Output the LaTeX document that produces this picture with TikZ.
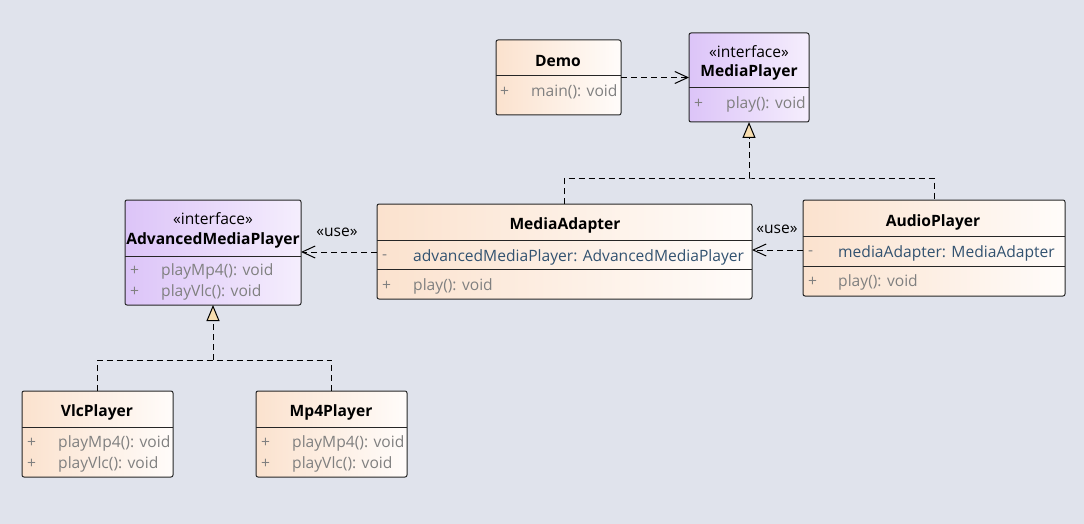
\documentclass[tikz,border=0pt]{standalone}
\usepackage{fontspec}
\setmainfont{Open Sans}
\usepackage{tikz}
\usetikzlibrary{positioning, calc}
\usetikzlibrary{arrows.meta}

\definecolor{bgcol}{RGB}{224,227,236}
\definecolor{clsleft}{RGB}{251,226,206}
\definecolor{clsright}{RGB}{255,252,250}
\definecolor{ifleft}{RGB}{220,196,248}
\definecolor{ifright}{RGB}{245,238,253}
\definecolor{opgray}{RGB}{128,128,128}
\definecolor{attrblue}{RGB}{50,82,112}
\definecolor{tricol}{RGB}{248,222,176}

\begin{document}
\begin{tikzpicture}[x=1pt,y=-1pt,
    cls/.style={draw=black!85, line width=1pt, rounded corners=2pt, left color=clsleft, right color=clsright, anchor=north west, inner sep=0pt, outer sep=0pt},
    iface/.style={cls, left color=ifleft, right color=ifright},
    title/.style={font=\bfseries\fontsize{15.6}{17}\selectfont},
    stereo/.style={font=\fontsize{15.6}{17}\selectfont},
    vis/.style={anchor=west, inner sep=0pt, text=opgray, font=\fontsize{15.6}{17}\selectfont},
    op/.style={anchor=west, inner sep=0pt, text=opgray, font=\fontsize{15.6}{17}\selectfont},
    attr/.style={op, text=attrblue},
    sep/.style={line width=1pt, black!85},
    dep/.style={line width=1pt, dash pattern=on 6pt off 4pt, -{Straight Barb[length=13pt,width=12pt]}},
    link/.style={line width=1pt, dash pattern=on 6pt off 4pt},
    impl/.style={link, -{Triangle[length=16pt,width=13pt,fill=tricol]}}]

    \fill[bgcol] (0,0) rectangle (1084,524);

    % Demo
    \node[cls, minimum width=125, minimum height=75] (demo) at (496,40) {};
    \draw[sep] (demo.west |- 0,76) -- (demo.east |- 0,76);
    \node[title] (demoname) at (558,61) {Demo};
    \node[vis] (demov1) at (500,92) {+};
    \node[op] (demoo1) at (531,92) {main(): void};

    % MediaPlayer
    \node[iface, minimum width=120, minimum height=89] (mplayer) at (689,33) {};
    \draw[sep] (mplayer.west |- 0,88) -- (mplayer.east |- 0,88);
    \node[stereo] (mpst) at (749,52) {«interface»};
    \node[title] (mpname) at (749,72) {MediaPlayer};
    \node[vis] (mpv1) at (694,104) {+};
    \node[op] (mpo1) at (726,104) {play(): void};

    % AdvancedMediaPlayer
    \node[iface, minimum width=176, minimum height=105] (amp) at (125,200) {};
    \draw[sep] (amp.west |- 0,256) -- (amp.east |- 0,256);
    \node[stereo] (ampst) at (213,219) {«interface»};
    \node[title] (ampname) at (213,240) {AdvancedMediaPlayer};
    \node[vis] (ampv1) at (130,271) {+};
    \node[op] (ampo1) at (161,271) {playMp4(): void};
    \node[vis] (ampv2) at (130,292) {+};
    \node[op] (ampo2) at (161,292) {playVlc(): void};

    % MediaAdapter
    \node[cls, minimum width=375, minimum height=95] (madapter) at (377,204) {};
    \draw[sep] (madapter.west |- 0,240) -- (madapter.east |- 0,240);
    \draw[sep] (madapter.west |- 0,269) -- (madapter.east |- 0,269);
    \node[title] (maname) at (565,225) {MediaAdapter};
    \node[vis] (mav1) at (382,257) {-};
    \node[attr] (maa1) at (413,257) {advancedMediaPlayer: AdvancedMediaPlayer};
    \node[vis] (mav2) at (382,286) {+};
    \node[op] (mao1) at (413,286) {play(): void};

    % AudioPlayer
    \node[cls, minimum width=262, minimum height=96] (aplayer) at (803,200) {};
    \draw[sep] (aplayer.west |- 0,236) -- (aplayer.east |- 0,236);
    \draw[sep] (aplayer.west |- 0,266) -- (aplayer.east |- 0,266);
    \node[title] (apname) at (933,222) {AudioPlayer};
    \node[vis] (apv1) at (808,253) {-};
    \node[attr] (apa1) at (838,253) {mediaAdapter: MediaAdapter};
    \node[vis] (apv2) at (808,282) {+};
    \node[op] (apo1) at (838,282) {play(): void};

    % VlcPlayer
    \node[cls, minimum width=151, minimum height=86] (vlc) at (22,391) {};
    \draw[sep] (vlc.west |- 0,427) -- (vlc.east |- 0,427);
    \node[title] (vlcname) at (97,412) {VlcPlayer};
    \node[vis] (vlcv1) at (27,443) {+};
    \node[op] (vlco1) at (58,443) {playMp4(): void};
    \node[vis] (vlcv2) at (27,464) {+};
    \node[op] (vlco2) at (58,464) {playVlc(): void};

    % Mp4Player
    \node[cls, minimum width=151, minimum height=86] (mp4) at (256,391) {};
    \draw[sep] (mp4.west |- 0,427) -- (mp4.east |- 0,427);
    \node[title] (mp4name) at (331,412) {Mp4Player};
    \node[vis] (mp4v1) at (261,443) {+};
    \node[op] (mp4o1) at (292,443) {playMp4(): void};
    \node[vis] (mp4v2) at (261,464) {+};
    \node[op] (mp4o2) at (292,464) {playVlc(): void};

    % connectors
    \draw[dep] (demo) -- (mplayer);

    \coordinate (jtop) at (749,178);
    \draw[link] (madapter.north) |- (jtop) -| (aplayer.north);
    \draw[impl] (jtop) -- (jtop |- mplayer.south);

    \coordinate (jbot) at (213,360);
    \draw[link] (vlc.north) |- (jbot) -| (mp4.north);
    \draw[impl] (jbot) -- (jbot |- amp.south);

    \draw[dep] (madapter.west |- 0,252) -- (amp.east |- 0,252);
    \node[stereo] (use1) at (337,232) {«use»};
    \draw[dep] (aplayer.west |- 0,250) -- (madapter.east |- 0,250);
    \node[stereo] (use2) at (777,229) {«use»};
\end{tikzpicture}
\end{document}
